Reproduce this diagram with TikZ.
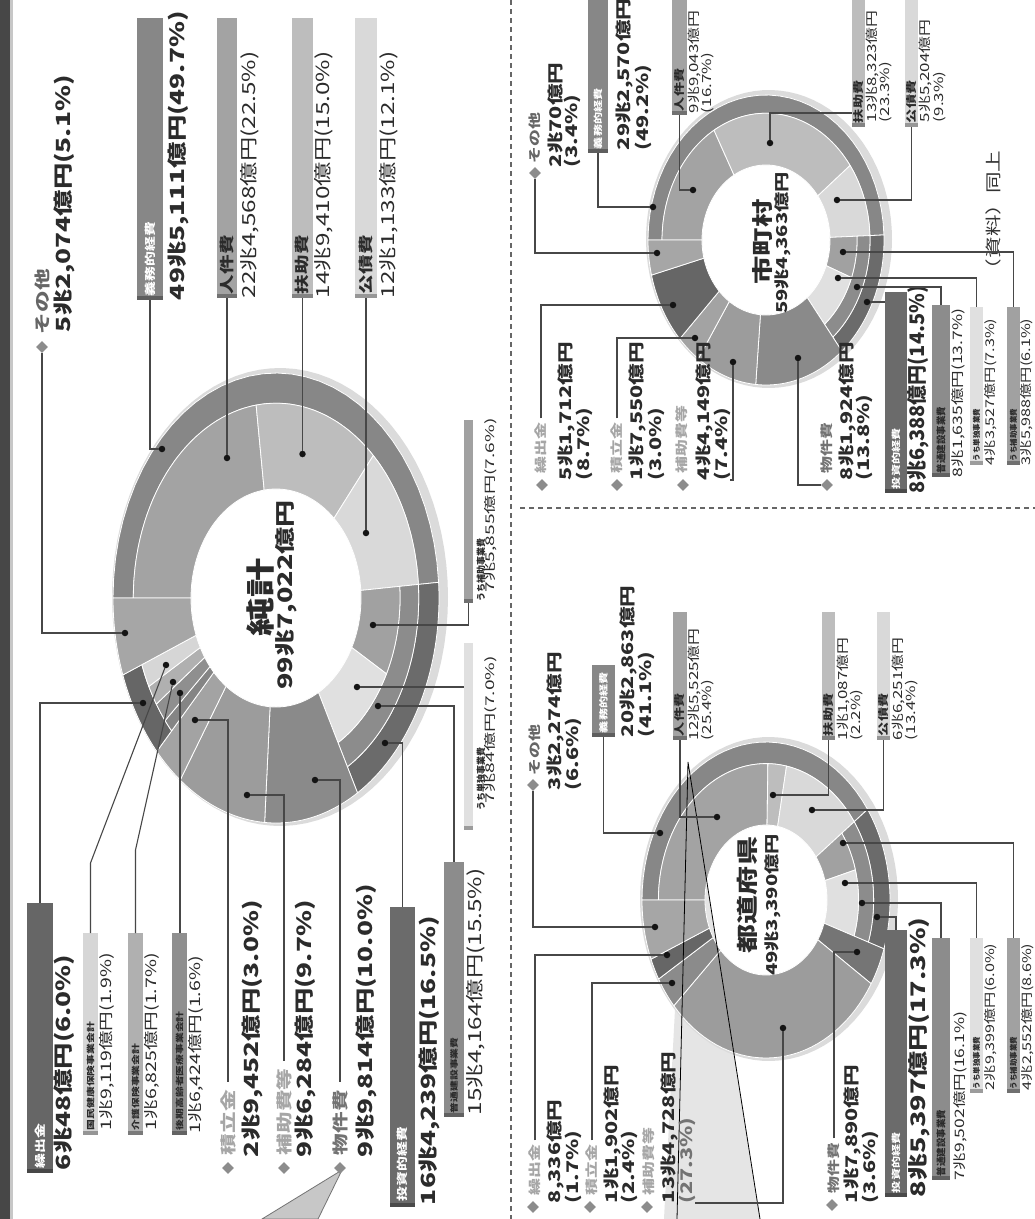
\documentclass[tikz,border=0pt]{standalone}
\usepackage{fontspec}
\setmainfont{Noto Sans CJK JP}[FakeStretch=1.35]
\newfontfamily\jpn{Noto Sans CJK JP}[FakeStretch=1.0]
\newfontfamily\jpw{Noto Sans CJK JP}[FakeStretch=1.6]
\usetikzlibrary{shapes.geometric}

\definecolor{ink}{gray}{0.17}
\definecolor{cGim}{gray}{0.53}
\definecolor{cJin}{gray}{0.64}
\definecolor{cFuj}{gray}{0.74}
\definecolor{cKou}{gray}{0.85}
\definecolor{cTou}{gray}{0.42}
\definecolor{cFut}{gray}{0.55}
\definecolor{cHoj}{gray}{0.63}
\definecolor{cTan}{gray}{0.88}
\definecolor{cBus}{gray}{0.54}
\definecolor{cHoh}{gray}{0.61}
\definecolor{cTsu}{gray}{0.64}
\definecolor{cKur}{gray}{0.40}
\definecolor{cSon}{gray}{0.65}
\definecolor{cKok}{gray}{0.84}
\definecolor{cKai}{gray}{0.69}
\definecolor{cKoki}{gray}{0.56}
\definecolor{cRim}{gray}{0.86}

% ring geometry: centre, inner radii, outer radii
\newcommand\setdonut[6]{\def\Cx{#1}\def\Cy{#2}\def\Ix{#3}\def\Iy{#4}\def\Ox{#5}\def\Oy{#6}}
% one ring sector: t-from, t-to (0 = hole, 1 = rim), angle-from, angle-to, colour
\newcommand\dseg[5]{%
  \filldraw[fill=#5,draw=white,line width=0.8pt,line join=round]
   plot[domain=#3:#4,samples=36,variable=\q]
    ({\Cx+(\Ix+#2*(\Ox-\Ix))*cos(\q)},{\Cy+(\Iy+#2*(\Oy-\Iy))*sin(\q)})
   -- plot[domain=#4:#3,samples=36,variable=\q]
    ({\Cx+(\Ix+#1*(\Ox-\Ix))*cos(\q)},{\Cy+(\Iy+#1*(\Oy-\Iy))*sin(\q)})
   -- cycle;}
% soft rim round a ring: a band between the ring edge and a slightly larger, shifted ellipse
\newcommand\drim[4]{%
  \fill[cRim,even odd rule]
    plot[domain=0:360,samples=90,variable=\q]
      ({\Cx+#1+(\Ox+#3)*cos(\q)},{\Cy+#2+(\Oy+#4)*sin(\q)}) -- cycle
    plot[domain=0:360,samples=90,variable=\q]
      ({\Cx+(\Ox-2)*cos(\q)},{\Cy+(\Oy-2)*sin(\q)}) -- cycle;}
% legend bar: name, x1, x2, y1, y2, colour
\newcommand\jbarat[6]{\node[jbar,fill=#6,minimum width={#3-#2},minimum height={#5-#4}] (#1) at ({(#2+#3)/2},{(#4+#5)/2}) {};}

\begin{document}
\begin{tikzpicture}[x=1pt,y=-1pt,
 tx/.style={rotate=90,anchor=west,inner sep=0pt,outer sep=0pt,text=ink},
 fA/.style={tx,font=\fontsize{19.5}{19.5}\selectfont\bfseries},
 fB/.style={tx,font=\fontsize{18}{18}\selectfont},
 fC/.style={tx,font=\fontsize{14.5}{14.5}\selectfont},
 fD/.style={tx,font=\jpw\fontsize{12}{12}\selectfont},
 fKey/.style={tx,font=\fontsize{16}{16}\selectfont\bfseries},
 fBarL/.style={tx,font=\fontsize{14.5}{14.5}\selectfont\bfseries},
 fWhite/.style={tx,text=white,font=\fontsize{11}{11}\selectfont\bfseries},
 fSubL/.style={tx,font=\fontsize{8}{8}\selectfont\bfseries},
 fUL/.style={tx,font=\jpn\fontsize{9}{9}\selectfont\bfseries},
 gA/.style={tx,font=\fontsize{16}{16}\selectfont\bfseries},
 gKey/.style={tx,font=\fontsize{12.5}{12.5}\selectfont\bfseries},
 gS/.style={tx,font=\fontsize{12.5}{12.5}\selectfont},
 gBarL/.style={tx,font=\fontsize{10.5}{10.5}\selectfont\bfseries},
 gWhite/.style={tx,text=white,font=\fontsize{9}{9}\selectfont\bfseries},
 gT/.style={tx,font=\fontsize{20}{20}\selectfont\bfseries},
 gTn/.style={tx,font=\jpn\fontsize{20}{20}\selectfont\bfseries},
 gF/.style={tx,font=\fontsize{13}{13}\selectfont},
 gU/.style={tx,font=\fontsize{12}{12}\selectfont},
 gFL/.style={tx,font=\jpn\fontsize{9.5}{9.5}\selectfont\bfseries},
 gUL/.style={tx,font=\jpn\fontsize{7.5}{7.5}\selectfont\bfseries},
 ttl/.style={rotate=90,inner sep=0pt,outer sep=0pt,text=ink},
 jbar/.style={rectangle,inner sep=0pt,outer sep=0pt,
   path picture={\fill[black,fill opacity=0.3] (path picture bounding box.south west) rectangle ([yshift=4pt]path picture bounding box.south east);}},
 jdot/.style={circle,fill=black!92,inner sep=0pt,minimum size=6.5pt},
 jdia/.style={diamond,fill=black!45,inner sep=0pt,minimum size=12pt},
 jlead/.style={draw=black!72,line width=1.1pt}
]
\useasboundingbox (0,0) rectangle (1035,1219);
\fill[white] (0,0) rectangle (1035,1219);
% page edge
\fill[black!72] (0,0) rectangle (10,1219);
\fill[black!22] (10,0) rectangle (13,1219);

% section dividers
\draw[black!60,line width=1.2pt,dash pattern=on 5pt off 4pt] (511,0) -- (511,1219);
\draw[black!60,line width=1.2pt,dash pattern=on 5pt off 4pt] (520,508) -- (1035,508);

% callout shapes lying under the charts
\filldraw[fill=black!22,draw=black!55,line width=0.8pt] (342,1170) -- (262,1219) -- (318,1219) -- cycle;
\fill[black!10] (688,762) -- (664,1219) -- (760,1219) -- cycle;

% ================= total (純計) ring =================
\setdonut{276}{598}{85}{109}{163}{225}
\drim{4}{-1}{5}{4}
\dseg{0.74}{1}{180}{356}{cGim}
\dseg{0}{0.74}{180}{262}{cJin}
\dseg{0}{0.74}{262}{313}{cFuj}
\dseg{0}{0.74}{313}{356}{cKou}
\dseg{0.74}{1}{356}{420}{cTou}
\dseg{0.5}{0.74}{356}{420}{cFut}
\dseg{0}{0.5}{356}{387}{cHoj}
\dseg{0}{0.5}{387}{420}{cTan}
\dseg{0}{1}{60}{94}{cBus}
\dseg{0}{1}{94}{126}{cHoh}
\dseg{0}{1}{126}{137}{cTsu}
\dseg{0.74}{1}{137}{160}{cKur}
\dseg{0}{0.74}{137}{141}{cKur!80!white}
\dseg{0}{0.74}{141}{147}{cKoki}
\dseg{0}{0.74}{147}{153}{cKai}
\dseg{0}{0.74}{153}{160}{cKok}
\dseg{0}{1}{160}{180}{cSon}

% ================= prefectures (都道府県) ring =================
\setdonut{766}{900}{61}{75}{124}{158}
\drim{3}{-1}{5}{4}
\dseg{0.74}{1}{180}{325}{cGim}
\dseg{0}{0.74}{180}{271}{cJin}
\dseg{0}{0.74}{271}{281}{cFuj}
\dseg{0}{0.74}{281}{325}{cKou}
\dseg{0.74}{1}{325}{378}{cTou}
\dseg{0.5}{0.74}{325}{378}{cFut}
\dseg{0}{0.5}{325}{345}{cHoj}
\dseg{0}{0.5}{345}{378}{cTan}
\dseg{0}{1}{18}{32}{cBus!85!black}
\dseg{0}{1}{32}{138}{cHoh}
\dseg{0}{1}{138}{150}{cTsu!85!black}
\dseg{0}{1}{150}{158}{cKur}
\dseg{0}{1}{158}{180}{cSon}

% ================= municipalities (市町村) ring =================
\setdonut{766}{240}{64}{75}{118}{145}
\drim{3}{-1}{5}{4}
\dseg{0.74}{1}{180}{358}{cGim}
\dseg{0}{0.74}{180}{240}{cJin}
\dseg{0}{0.74}{240}{324}{cFuj}
\dseg{0}{0.74}{324}{358}{cKou}
\dseg{0.74}{1}{358}{410}{cTou}
\dseg{0.5}{0.74}{358}{410}{cFut}
\dseg{0}{0.5}{358}{380}{cHoj}
\dseg{0}{0.5}{380}{410}{cTan}
\dseg{0}{1}{50}{95}{cBus}
\dseg{0}{1}{95}{125}{cHoh}
\dseg{0}{1}{125}{137}{cTsu}
\dseg{0}{1}{137}{166}{cKur}
\dseg{0}{1}{166}{180}{cSon}

% callout lines over the prefecture ring
\draw[black,line width=0.8pt] (677,1219) -- (688,762) -- (760,1219);

% ring centre captions
\node[ttl,font=\fontsize{29}{29}\selectfont\bfseries] (a-ttl) at (260,597) {純計};
\node[ttl,font=\fontsize{20}{20}\selectfont\bfseries] (a-sum) at (286,595) {99兆7,022億円};
\node[ttl,font=\fontsize{21.5}{21.5}\selectfont\bfseries] (b-ttl) at (747,895) {都道府県};
\node[ttl,font=\fontsize{15}{15}\selectfont\bfseries] (b-sum) at (773,905) {49兆3,390億円};
\node[ttl,font=\fontsize{21}{21}\selectfont\bfseries] (c-ttl) at (762,242) {市町村};
\node[ttl,font=\fontsize{15}{15}\selectfont\bfseries] (c-sum) at (783,243) {59兆4,363億円};

% ================= total: legend =================
\jbarat{a-b-gim}{137}{163}{18}{300}{cGim}
\jbarat{a-b-jin}{217}{237}{18}{298}{cJin}
\jbarat{a-b-fuj}{292}{313}{18}{298}{cFuj}
\jbarat{a-b-kou}{355}{377}{18}{298}{cKou}
\jbarat{a-b-hoj}{464}{473}{420}{603}{cHoj}
\jbarat{a-b-tan}{464}{473}{643}{830}{cTan}
\jbarat{a-b-fut}{444}{464}{862}{1117}{cFut}
\jbarat{a-b-tou}{390}{415}{907}{1207}{cTou}
\jbarat{a-b-kur}{27}{53}{903}{1173}{cKur}
\jbarat{a-b-kok}{83}{98}{933}{1135}{cKok}
\jbarat{a-b-kai}{128}{143}{933}{1135}{cKai}
\jbarat{a-b-koki}{172}{187}{933}{1135}{cKoki}

\node[jdia] (a-dia-son) at (42,347) {};
\node[jdia] (a-dia-tsu) at (228,1168) {};
\node[jdia] (a-dia-hoh) at (284,1168) {};
\node[jdia] (a-dia-bus) at (340,1168) {};

\node[fKey,text=black!60] (a-l-son) at (42,334) {その他};
\node[fA] (a-v-son) at (64,332) {5兆2,074億円(5.1\%)};
\node[fWhite] (a-l-gim) at (150,296) {義務的経費};
\node[fA] (a-v-gim) at (178,300) {49兆5,111億円(49.7\%)};
\node[fBarL] (a-l-jin) at (227,294) {人件費};
\node[fB] (a-v-jin) at (250,298) {22兆4,568億円(22.5\%)};
\node[fBarL] (a-l-fuj) at (302.5,294) {扶助費};
\node[fB] (a-v-fuj) at (324,298) {14兆9,410億円(15.0\%)};
\node[fBarL] (a-l-kou) at (366,294) {公債費};
\node[fB] (a-v-kou) at (389,298) {12兆1,133億円(12.1\%)};
\node[fUL] (a-l-hoj) at (481,601) {うち補助事業費};
\node[fD] (a-v-hoj) at (491,592) {7兆5,855億円(7.6\%)};
\node[fUL] (a-l-tan) at (481,810) {うち単独事業費};
\node[fD] (a-v-tan) at (491,803) {7兆84億円(7.0\%)};
\node[fSubL] (a-l-fut) at (454,1113) {普通建設事業費};
\node[fB] (a-v-fut) at (476,1115) {15兆4,164億円(15.5\%)};
\node[fWhite] (a-l-tou) at (402.5,1201) {投資的経費};
\node[fA] (a-v-tou) at (429,1205) {16兆4,239億円(16.5\%)};
\node[fKey,text=black!55] (a-l-bus) at (340,1155) {物件費};
\node[fA] (a-v-bus) at (366,1157) {9兆9,814億円(10.0\%)};
\node[fKey,text=black!35] (a-l-hoh) at (284,1155) {補助費等};
\node[fA] (a-v-hoh) at (305,1157) {9兆6,284億円(9.7\%)};
\node[fKey,text=black!35] (a-l-tsu) at (228,1155) {積立金};
\node[fA] (a-v-tsu) at (252,1157) {2兆9,452億円(3.0\%)};
\node[fWhite] (a-l-kur) at (40,1168) {繰出金};
\node[fA] (a-v-kur) at (64,1170) {6兆48億円(6.0\%)};
\node[fSubL] (a-l-kok) at (90.5,1130) {国民健康保険事業会計};
\node[fC] (a-v-kok) at (107,1130) {1兆9,119億円(1.9\%)};
\node[fSubL] (a-l-kai) at (135.5,1130) {介護保険事業会計};
\node[fC] (a-v-kai) at (152,1130) {1兆6,825億円(1.7\%)};
\node[fSubL] (a-l-koki) at (179.5,1130) {後期高齢者医療事業会計};
\node[fC] (a-v-koki) at (196,1133) {1兆6,424億円(1.6\%)};

\node[jdot] (a-d-son) at (125,633) {};
\node[jdot] (a-d-gim) at (162,449) {};
\node[jdot] (a-d-jin) at (227,458) {};
\node[jdot] (a-d-fuj) at (302.5,454) {};
\node[jdot] (a-d-kou) at (366,533) {};
\node[jdot] (a-d-hoj) at (373,625) {};
\node[jdot] (a-d-tan) at (357,687) {};
\node[jdot] (a-d-fut) at (378,706) {};
\node[jdot] (a-d-tou) at (385,743) {};
\node[jdot] (a-d-bus) at (315,780) {};
\node[jdot] (a-d-hoh) at (247,795) {};
\node[jdot] (a-d-tsu) at (195,720) {};
\node[jdot] (a-d-kur) at (143,703) {};
\node[jdot] (a-d-kok) at (166,665) {};
\node[jdot] (a-d-kai) at (173,682) {};
\node[jdot] (a-d-koki) at (180,693) {};
\coordinate (a-m-kok) at (90.5,863);
\coordinate (a-m-kai) at (135.5,850);

\draw[jlead] (a-dia-son.south) |- (a-d-son);
\draw[jlead] (a-b-gim.south) |- (a-d-gim);
\draw[jlead] (a-b-jin.south) -- (a-d-jin);
\draw[jlead] (a-b-fuj.south) -- (a-d-fuj);
\draw[jlead] (a-b-kou.south) -- (a-d-kou);
\draw[jlead] (a-d-hoj) -| (a-b-hoj.south);
\draw[jlead] (a-d-tan) -- (a-d-tan -| a-b-tan.west);
\draw[jlead] (a-d-fut) -| (a-b-fut.north);
\draw[jlead] (a-d-tou) -| (a-b-tou.north);
\draw[jlead] (a-d-bus) -| ([yshift=8pt]a-l-bus.east);
\draw[jlead] (a-d-hoh) -| ([yshift=8pt]a-l-hoh.east);
\draw[jlead] (a-d-tsu) -| ([yshift=8pt]a-l-tsu.east);
\draw[jlead] (a-b-kur.north) |- (a-d-kur);
\draw[jlead] (a-d-kok) -- (a-m-kok) -- (a-b-kok.north);
\draw[jlead] (a-d-kai) -- (a-m-kai) -- (a-b-kai.north);
\draw[jlead] (a-d-koki) -- (a-d-koki |- a-b-koki.north);

% ================= prefectures: legend =================
\jbarat{b-b-gim}{592}{615}{665}{737}{cGim}
\jbarat{b-b-jin}{673}{687}{612}{740}{cJin}
\jbarat{b-b-fuj}{822}{835}{612}{740}{cFuj}
\jbarat{b-b-kou}{877}{890}{612}{740}{cKou}
\jbarat{b-b-tou}{885}{907}{930}{1197}{cTou}
\jbarat{b-b-fut}{932}{950}{938}{1180}{cFut}
\jbarat{b-b-tan}{970}{983}{938}{1093}{cTan}
\jbarat{b-b-hoj}{1007}{1020}{938}{1093}{cHoj}

\node[jdia] (b-dia-son) at (533,785) {};
\node[jdia] (b-dia-kur) at (533,1207) {};
\node[jdia] (b-dia-tsu) at (590,1207) {};
\node[jdia] (b-dia-hoh) at (647,1207) {};
\node[jdia] (b-dia-bus) at (832,1205) {};

\node[gKey,text=black!60] (b-l-son) at (535,775) {その他};
\node[gA] (b-v-son) at (555,790) {3兆2,274億円};
\node[gA] (b-p-son) at (573,790) {(6.6\%)};
\node[gWhite] (b-l-gim) at (603.5,733) {義務的経費};
\node[gA] (b-v-gim) at (628,737) {20兆2,863億円};
\node[gA] (b-p-gim) at (646,737) {(41.1\%)};
\node[gBarL] (b-l-jin) at (680,736) {人件費};
\node[gS] (b-v-jin) at (694,740) {12兆5,525億円};
\node[gS] (b-p-jin) at (708,740) {(25.4\%)};
\node[gBarL] (b-l-fuj) at (828.5,736) {扶助費};
\node[gS] (b-v-fuj) at (843,740) {1兆1,087億円};
\node[gS] (b-p-fuj) at (857,740) {(2.2\%)};
\node[gBarL] (b-l-kou) at (883.5,736) {公債費};
\node[gS] (b-v-kou) at (898,740) {6兆6,251億円};
\node[gS] (b-p-kou) at (912,740) {(13.4\%)};
\node[gKey,text=black!35] (b-l-kur) at (535,1195) {繰出金};
\node[gA] (b-v-kur) at (555,1203) {8,336億円};
\node[gA] (b-p-kur) at (573,1203) {(1.7\%)};
\node[gKey,text=black!35] (b-l-tsu) at (592,1195) {積立金};
\node[gA] (b-v-tsu) at (612,1203) {1兆1,902億円};
\node[gA] (b-p-tsu) at (629,1203) {(2.4\%)};
\node[gKey,text=black!35] (b-l-hoh) at (649,1195) {補助費等};
\node[gA] (b-v-hoh) at (669,1203) {13兆4,728億円};
\node[gA,text=black!55] (b-p-hoh) at (687,1203) {(27.3\%)};
\node[gKey,text=black!55] (b-l-bus) at (834,1193) {物件費};
\node[gA] (b-v-bus) at (852,1203) {1兆7,890億円};
\node[gA] (b-p-bus) at (870,1203) {(3.6\%)};
\node[gWhite] (b-l-tou) at (896,1193) {投資的経費};
\node[gT] (b-v-tou) at (919,1197) {8兆5,397億円(17.3\%)};
\node[gFL] (b-l-fut) at (941,1176) {普通建設事業費};
\node[gF] (b-v-fut) at (960,1180) {7兆9,502億円(16.1\%)};
\node[gUL] (b-l-tan) at (976.5,1089) {うち単独事業費};
\node[gU] (b-v-tan) at (991,1090) {2兆9,399億円(6.0\%)};
\node[gUL] (b-l-hoj) at (1013.5,1089) {うち補助事業費};
\node[gU] (b-v-hoj) at (1028,1090) {4兆2,552億円(8.6\%)};

\node[jdot] (b-d-son) at (655,927) {};
\node[jdot] (b-d-gim) at (660,833) {};
\node[jdot] (b-d-jin) at (717,817) {};
\node[jdot] (b-d-fuj) at (773,795) {};
\node[jdot] (b-d-kou) at (812,810) {};
\node[jdot] (b-d-kur) at (667,955) {};
\node[jdot] (b-d-tsu) at (672,983) {};
\node[jdot] (b-d-hoh) at (783,1028) {};
\node[jdot] (b-d-bus) at (857,952) {};
\node[jdot] (b-d-tou) at (877,917) {};
\node[jdot] (b-d-fut) at (862,903) {};
\node[jdot] (b-d-tan) at (845,883) {};
\node[jdot] (b-d-hoj) at (843,843) {};

\draw[jlead] (b-dia-son.south) |- (b-d-son);
\draw[jlead] (b-b-gim.south) |- (b-d-gim);
\draw[jlead] (b-b-jin.south) |- (b-d-jin);
\draw[jlead] (b-b-fuj.south) |- (b-d-fuj);
\draw[jlead] (b-b-kou.south) |- (b-d-kou);
\draw[jlead] ([yshift=4pt]b-l-kur.east) |- (b-d-kur);
\draw[jlead] ([yshift=4pt]b-l-tsu.east) |- (b-d-tsu);
\draw[jlead] (b-p-hoh.south west) -| (b-d-hoh);
\draw[jlead] ([yshift=4pt]b-l-bus.east) |- (b-d-bus);
\draw[jlead] (b-d-tou) -| (b-b-tou.north);
\draw[jlead] (b-d-fut) -| (b-b-fut.north);
\draw[jlead] (b-d-tan) -| (b-b-tan.north);
\draw[jlead] (b-d-hoj) -| (b-b-hoj.north);

% ================= municipalities: legend =================
\jbarat{c-b-gim}{588}{608}{-5}{153}{cGim}
\jbarat{c-b-jin}{672}{687}{-5}{115}{cJin}
\jbarat{c-b-fuj}{852}{865}{-5}{127}{cFuj}
\jbarat{c-b-kou}{905}{918}{-5}{127}{cKou}
\jbarat{c-b-tou}{885}{907}{292}{493}{cTou}
\jbarat{c-b-fut}{932}{950}{305}{477}{cFut}
\jbarat{c-b-tan}{970}{983}{307}{465}{cTan}
\jbarat{c-b-hoj}{1007}{1020}{307}{465}{cHoj}

\node[jdia] (c-dia-son) at (535,173) {};
\node[jdia] (c-dia-kur) at (542,485) {};
\node[jdia] (c-dia-tsu) at (617,485) {};
\node[jdia] (c-dia-hoh) at (683,485) {};
\node[jdia] (c-dia-bus) at (827,485) {};

\node[gKey,text=black!60] (c-l-son) at (535,163) {その他};
\node[gA] (c-v-son) at (555,167) {2兆70億円};
\node[gA] (c-p-son) at (572,167) {(3.4\%)};
\node[gWhite] (c-l-gim) at (598,149) {義務的経費};
\node[gA] (c-v-gim) at (624,150) {29兆2,570億円};
\node[gA] (c-p-gim) at (643,150) {(49.2\%)};
\node[gBarL] (c-l-jin) at (679.5,111) {人件費};
\node[gS] (c-v-jin) at (694,113) {9兆9,043億円};
\node[gS] (c-p-jin) at (708,113) {(16.7\%)};
\node[gBarL] (c-l-fuj) at (858.5,123) {扶助費};
\node[gS] (c-v-fuj) at (872,122) {13兆8,323億円};
\node[gS] (c-p-fuj) at (886,122) {(23.3\%)};
\node[gBarL] (c-l-kou) at (911.5,123) {公債費};
\node[gS] (c-v-kou) at (925,122) {5兆5,204億円};
\node[gS] (c-p-kou) at (940,122) {(9.3\%)};
\node[gKey,text=black!35] (c-l-kur) at (541,473) {繰出金};
\node[gA] (c-v-kur) at (566,480) {5兆1,712億円};
\node[gA] (c-p-kur) at (584,480) {(8.7\%)};
\node[gKey,text=black!35] (c-l-tsu) at (617,473) {積立金};
\node[gA] (c-v-tsu) at (637,480) {1兆7,550億円};
\node[gA] (c-p-tsu) at (656,480) {(3.0\%)};
\node[gKey,text=black!35] (c-l-hoh) at (682,473) {補助費等};
\node[gA] (c-v-hoh) at (704,480) {4兆4,149億円};
\node[gA] (c-p-hoh) at (722,480) {(7.4\%)};
\node[gKey,text=black!55] (c-l-bus) at (827,473) {物件費};
\node[gA] (c-v-bus) at (847,480) {8兆1,924億円};
\node[gA] (c-p-bus) at (864,480) {(13.8\%)};
\node[gWhite] (c-l-tou) at (896,489) {投資的経費};
\node[gTn] (c-v-tou) at (918,493) {8兆6,388億円(14.5\%)};
\node[gFL] (c-l-fut) at (941,473) {普通建設事業費};
\node[gF] (c-v-fut) at (958,477) {8兆1,635億円(13.7\%)};
\node[gUL] (c-l-tan) at (976.5,461) {うち単独事業費};
\node[gU] (c-v-tan) at (991,465) {4兆3,527億円(7.3\%)};
\node[gUL] (c-l-hoj) at (1013.5,461) {うち補助事業費};
\node[gU] (c-v-hoj) at (1027,465) {3兆5,988億円(6.1\%)};
\node[tx,font=\fontsize{16}{16}\selectfont,text=black!80] (c-src) at (993,280) {（資料）同上};

\node[jdot] (c-d-son) at (657,253) {};
\node[jdot] (c-d-gim) at (653,207) {};
\node[jdot] (c-d-jin) at (693,190) {};
\node[jdot] (c-d-fuj) at (770,143) {};
\node[jdot] (c-d-kou) at (837,200) {};
\node[jdot] (c-d-kur) at (673,305) {};
\node[jdot] (c-d-tsu) at (695,338) {};
\node[jdot] (c-d-hoh) at (733,362) {};
\node[jdot] (c-d-bus) at (798,358) {};
\node[jdot] (c-d-tou) at (867,302) {};
\node[jdot] (c-d-fut) at (857,287) {};
\node[jdot] (c-d-tan) at (838,278) {};
\node[jdot] (c-d-hoj) at (843,252) {};
\coordinate (c-m-fuj) at (770,113);

\draw[jlead] (c-dia-son.south) |- (c-d-son);
\draw[jlead] (c-b-gim.south) |- (c-d-gim);
\draw[jlead] (c-b-jin.south) |- (c-d-jin);
\draw[jlead] (c-d-fuj) -- (c-m-fuj) -- (c-m-fuj -| c-b-fuj.west);
\draw[jlead] (c-b-kou.south) |- (c-d-kou);
\draw[jlead] ([yshift=4pt]c-l-kur.east) |- (c-d-kur);
\draw[jlead] ([yshift=4pt]c-l-tsu.east) |- (c-d-tsu);
\draw[jlead] (c-p-hoh.south west) -| (c-d-hoh);
\draw[jlead] (c-d-bus) |- (c-dia-bus.west);
\draw[jlead] (c-d-tou) -- (c-d-tou -| c-b-tou.west);
\draw[jlead] (c-d-fut) -| (c-b-fut.north);
\draw[jlead] (c-d-tan) -| (c-b-tan.north);
\draw[jlead] (c-d-hoj) -| (c-b-hoj.north);
\end{tikzpicture}
\end{document}
